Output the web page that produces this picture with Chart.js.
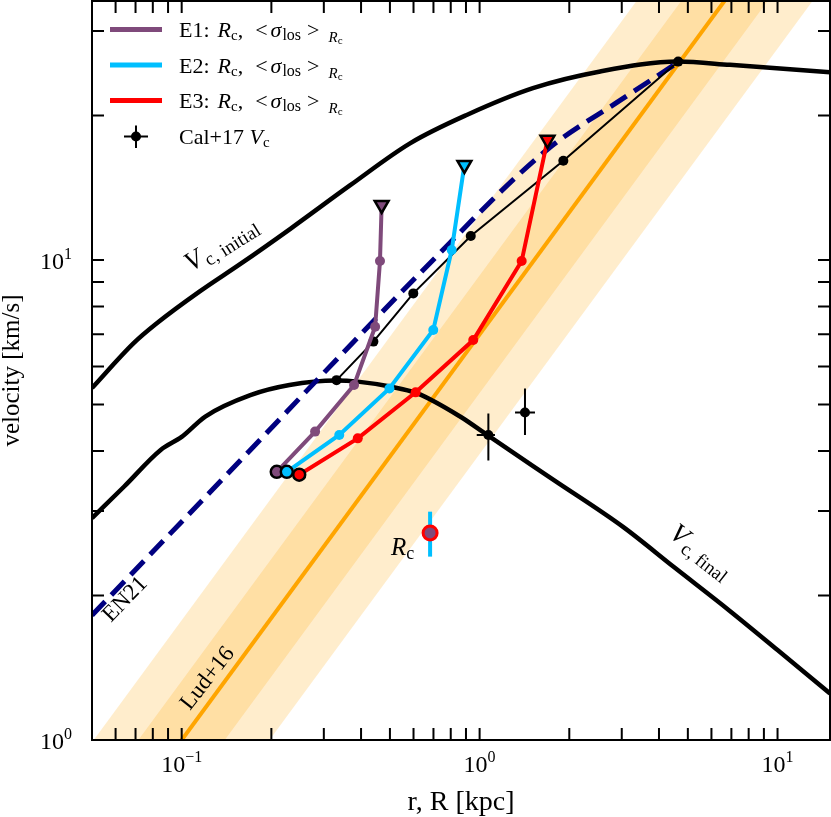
<!DOCTYPE html>
<html>
<head>
<meta charset="utf-8">
<title>velocity vs radius</title>
<script src="https://cdn.jsdelivr.net/npm/chart.js@4.4.1/dist/chart.umd.min.js"></script>
<style>
  html, body { margin: 0; padding: 0; background: #ffffff; }
  canvas { display: block; }
</style>
</head>
<body>
<canvas id="velocityChart" width="831" height="817"></canvas>
<script>
// ------------------- Data -------------------//

// circular velocity curves, r [kpc] / V [km/s]
var vcInitialR = [0.05, 0.069, 0.0825, 0.115, 0.157, 0.231, 0.367, 0.584, 0.905, 1.51, 2.54, 4.64, 6.92, 15];
var vcInitialV = [5.41, 6.71, 7.38, 8.6, 9.8, 11.6, 14.3, 17.5, 20.05, 22.8, 24.7, 25.9, 25.5, 24.6];

var vcFinalR = [0.05, 0.064, 0.085, 0.10, 0.12, 0.17, 0.23, 0.33, 0.39, 0.50, 0.615, 0.86, 1.06, 1.75, 3.03, 4.5, 6.9, 10, 15];
var vcFinalV = [2.9, 3.37, 4.02, 4.28, 4.72, 5.23, 5.49, 5.61, 5.58, 5.45, 5.28, 4.72, 4.32, 3.50, 2.78, 2.29, 1.86, 1.54, 1.25];

// EN21 (dashed)
var en21R = [0.05, 0.17, 0.33, 0.63, 1.68, 2.96, 4.59];
var en21V = [1.82, 4.02, 6.19, 9.38, 16.95, 21.5, 25.7];

// thin black profile with dots
var profileR = [0.331, 0.44, 0.599, 0.934, 1.91, 4.64];
var profileV = [5.62, 6.76, 8.52, 11.22, 16.1, 25.9];

// Lud+16 relation and its two bands (end points)
var ludR = [0.04, 20];
var ludV = [0.461, 88.0];
var ludInnerHiV = [0.612, 116.7];
var ludInnerLoV = [0.348, 66.4];
var ludOuterHiV = [0.819, 156.3];
var ludOuterLoV = [0.260, 49.5];

// E1 / E2 / E3 : R_c, <sigma_los>_Rc
var e1R = [0.2085, 0.2804, 0.379, 0.446, 0.463, 0.469];
var e1V = [3.62, 4.39, 5.49, 7.26, 9.95, 13.02];
var e2R = [0.2253, 0.338, 0.498, 0.699, 0.806, 0.889];
var e2V = [3.62, 4.32, 5.40, 7.15, 10.49, 15.78];
var e3R = [0.248, 0.390, 0.610, 0.952, 1.384, 1.69];
var e3V = [3.57, 4.25, 5.30, 6.81, 9.95, 17.8];

// Cal+17 V_c points with errors
var calR = [1.07, 1.42];
var calV = [4.32, 4.81];
var calRLo = [0.978, 1.315];
var calRHi = [1.126, 1.534];
var calVLo = [3.82, 4.32];
var calVHi = [4.79, 5.40];

// R_c point
var rcR = [0.682];
var rcV = [2.70];
var rcVLo = [2.41];
var rcVHi = [2.99];

// axes
var xMin = 0.05, xMax = 15, yMin = 1, yMax = 34.64;
var xTicks = [0.06, 0.07, 0.08, 0.09, 0.1, 0.2, 0.3, 0.4, 0.5, 0.6, 0.7, 0.8, 0.9, 1, 2, 3, 4, 5, 6, 7, 8, 9, 10];
var yTicks = [2, 3, 4, 5, 6, 7, 8, 9, 10, 20, 30];
var xLabelTicks = [0.1, 1, 10];
var xLabelExps = ['\u22121', '0', '1'];
var yLabelTicks = [1, 10];
var yLabelExps = ['0', '1'];

// ------------------- Helpers -------------------//

var SERIF = '"Liberation Serif", "Times New Roman", serif';
var PURPLE = '#7f4a7b', CYAN = '#00bfff', RED = '#ff0000', NAVY = '#000080', ORANGE = '#ffa500';

function pts(xs, ys) {
  return xs.map(function(x, i) { return { x: x, y: ys[i] }; });
}

function seriesMarkers(color, n) {
  var r = [], st = [], bc = [], bw = [], rot = [];
  for (var i = 0; i < n; i++) {
    if (i === 0) { r.push(6); st.push('circle'); bc.push('#000'); bw.push(2.5); rot.push(0); }
    else if (i === n - 1) { r.push(8); st.push('triangle'); bc.push('#000'); bw.push(2.5); rot.push(180); }
    else { r.push(5); st.push('circle'); bc.push(color); bw.push(0); rot.push(0); }
  }
  return { pointRadius: r, pointStyle: st, pointBorderColor: bc, pointBorderWidth: bw, pointRotation: rot };
}

function eSeries(label, xs, ys, color, order) {
  var m = seriesMarkers(color, xs.length);
  return Object.assign({
    label: label, data: pts(xs, ys), borderColor: color, borderWidth: 4,
    pointBackgroundColor: color, fill: false, tension: 0, order: order
  }, m);
}

function errorBarPoints(xc, yc, xlo, xhi, ylo, yhi) {
  var out = [];
  for (var i = 0; i < xc.length; i++) {
    if (xlo) {
      out.push({ x: xlo[i], y: yc[i] }, { x: xhi[i], y: yc[i] }, { x: xc[i], y: null });
    }
    out.push({ x: xc[i], y: ylo[i] }, { x: xc[i], y: yhi[i] }, { x: xc[i], y: null });
  }
  return out;
}

function richText(ctx, x, y, parts) {
  parts.forEach(function(p) {
    ctx.font = (p.i ? 'italic ' : '') + p.s + 'px ' + SERIF;
    ctx.fillText(p.t, x, y + (p.dy || 0));
    x += ctx.measureText(p.t).width + (p.gap || 0);
  });
  return x;
}

function richWidth(ctx, parts) {
  var w = 0;
  parts.forEach(function(p) {
    ctx.font = (p.i ? 'italic ' : '') + p.s + 'px ' + SERIF;
    w += ctx.measureText(p.t).width + (p.gap || 0);
  });
  return w;
}

function rotatedText(ctx, x, y, deg, parts) {
  ctx.save();
  ctx.translate(x, y);
  ctx.rotate(deg * Math.PI / 180);
  richText(ctx, 0, 0, parts);
  ctx.restore();
}

function eLegendParts(name) {
  return [
    { t: name + ':', s: 22, gap: 8 },
    { t: 'R', s: 22, i: 1 },
    { t: 'c', s: 15, dy: 3 },
    { t: ',', s: 22, gap: 12 },
    { t: '<', s: 22, gap: 3 },
    { t: '\u03c3', s: 22, i: 1, gap: 1 },
    { t: 'los', s: 16, dy: 3, gap: 6 },
    { t: '>', s: 22, gap: 9 },
    { t: 'R', s: 15, i: 1, dy: 5 },
    { t: 'c', s: 11, dy: 7 }
  ];
}

// ------------------- Decorations: frame, ticks, labels, legend -------------------//

var figureDecor = {
  id: 'figureDecor',
  afterDraw: function(chart) {
    var ctx = chart.ctx, a = chart.chartArea;
    var xs = chart.scales.x, ys = chart.scales.y;
    var tickLen = 12;

    ctx.save();
    ctx.textAlign = 'left';
    ctx.textBaseline = 'alphabetic';
    ctx.fillStyle = '#000';
    ctx.strokeStyle = '#000';
    ctx.lineWidth = 2;

    // ticks pointing inward on every side
    ctx.beginPath();
    xTicks.forEach(function(v) {
      var px = xs.getPixelForValue(v);
      ctx.moveTo(px, a.bottom); ctx.lineTo(px, a.bottom - tickLen);
      ctx.moveTo(px, a.top); ctx.lineTo(px, a.top + tickLen);
    });
    yTicks.forEach(function(v) {
      var py = ys.getPixelForValue(v);
      ctx.moveTo(a.left, py); ctx.lineTo(a.left + tickLen, py);
      ctx.moveTo(a.right, py); ctx.lineTo(a.right - tickLen, py);
    });
    ctx.stroke();
    ctx.strokeRect(a.left, a.top, a.right - a.left, a.bottom - a.top);

    // tick labels 10^k
    xLabelTicks.forEach(function(v, i) {
      var parts = [{ t: '10', s: 24 }, { t: xLabelExps[i], s: 16, dy: -10 }];
      var w = richWidth(ctx, parts);
      richText(ctx, xs.getPixelForValue(v) - w / 2, a.bottom + 32, parts);
    });
    yLabelTicks.forEach(function(v, i) {
      var parts = [{ t: '10', s: 24 }, { t: yLabelExps[i], s: 16, dy: -10 }];
      var w = richWidth(ctx, parts);
      richText(ctx, 72 - w, ys.getPixelForValue(v) + 9, parts);
    });

    // axis titles
    ctx.textAlign = 'center';
    ctx.font = '28px ' + SERIF;
    ctx.fillText('r, R [kpc]', (a.left + a.right) / 2, 810);
    ctx.font = '25px ' + SERIF;
    ctx.save();
    ctx.translate(19, (a.top + a.bottom) / 2);
    ctx.rotate(-Math.PI / 2);
    ctx.fillText('velocity [km/s]', 0, 0);
    ctx.restore();
    ctx.textAlign = 'left';

    // legend
    var legendRows = [
      { color: PURPLE, y: 29.5, parts: eLegendParts('E1') },
      { color: CYAN, y: 65, parts: eLegendParts('E2') },
      { color: RED, y: 100.5, parts: eLegendParts('E3') }
    ];
    ctx.lineWidth = 5;
    legendRows.forEach(function(row) {
      ctx.strokeStyle = row.color;
      ctx.beginPath();
      ctx.moveTo(110, row.y); ctx.lineTo(162, row.y);
      ctx.stroke();
      richText(ctx, 179, row.y + 7.5, row.parts);
    });
    ctx.strokeStyle = '#000';
    ctx.lineWidth = 2;
    ctx.beginPath();
    ctx.moveTo(124, 136.5); ctx.lineTo(148, 136.5);
    ctx.moveTo(136, 125.5); ctx.lineTo(136, 148);
    ctx.stroke();
    ctx.beginPath();
    ctx.arc(136, 136.5, 5, 0, Math.PI * 2);
    ctx.fill();
    richText(ctx, 179, 144, [{ t: 'Cal+17 ', s: 22 }, { t: 'V', s: 22, i: 1 }, { t: 'c', s: 15, dy: 3 }]);

    // curve labels
    rotatedText(ctx, 191, 272, -32, [{ t: 'V', s: 27, i: 1, gap: 2 }, { t: 'c, initial', s: 19, dy: 5 }]);
    rotatedText(ctx, 668, 536, 38, [{ t: 'V', s: 27, i: 1, gap: 2 }, { t: 'c, final', s: 19, dy: 5 }]);
    rotatedText(ctx, 111, 623, -46, [{ t: 'EN21', s: 23 }]);
    rotatedText(ctx, 190, 711, -52, [{ t: 'Lud+16', s: 23 }]);
    richText(ctx, 391, 555, [{ t: 'R', s: 25, i: 1 }, { t: 'c', s: 18, dy: 4 }]);

    ctx.restore();
  }
};

// ------------------- Datasets -------------------//

var datasets = [];
function addSet(ds) { datasets.push(ds); return datasets.length - 1; }

var lineBase = { pointRadius: 0, fill: false, tension: 0 };

var outerLo = addSet(Object.assign({}, lineBase, { label: 'outerLo', data: pts(ludR, ludOuterLoV), borderWidth: 0, order: 16 }));
addSet(Object.assign({}, lineBase, { label: 'outerHi', data: pts(ludR, ludOuterHiV), borderWidth: 0, order: 15,
  fill: { target: outerLo }, backgroundColor: 'rgba(255, 165, 0, 0.2)' }));
var innerLo = addSet(Object.assign({}, lineBase, { label: 'innerLo', data: pts(ludR, ludInnerLoV), borderWidth: 0, order: 14 }));
addSet(Object.assign({}, lineBase, { label: 'innerHi', data: pts(ludR, ludInnerHiV), borderWidth: 0, order: 13,
  fill: { target: innerLo }, backgroundColor: 'rgba(255, 165, 0, 0.2)' }));
addSet(Object.assign({}, lineBase, { label: 'Lud+16', data: pts(ludR, ludV), borderColor: ORANGE, borderWidth: 4, order: 12 }));

addSet(Object.assign({}, lineBase, { label: 'Vc initial', data: pts(vcInitialR, vcInitialV), borderColor: '#000',
  borderWidth: 4.5, cubicInterpolationMode: 'monotone', order: 11 }));
addSet(Object.assign({}, lineBase, { label: 'Vc final', data: pts(vcFinalR, vcFinalV), borderColor: '#000',
  borderWidth: 4.5, cubicInterpolationMode: 'monotone', order: 10 }));

addSet(Object.assign({}, lineBase, { label: 'EN21', data: pts(en21R, en21V), borderColor: NAVY,
  borderWidth: 5, borderDash: [19, 9], cubicInterpolationMode: 'monotone', order: 9 }));

addSet({ label: 'profile', data: pts(profileR, profileV), borderColor: '#000', borderWidth: 2,
  pointRadius: 5, pointBackgroundColor: '#000', pointBorderWidth: 0, fill: false, tension: 0, order: 8 });

addSet(eSeries('E1', e1R, e1V, PURPLE, 7));
addSet(eSeries('E2', e2R, e2V, CYAN, 6));
addSet(eSeries('E3', e3R, e3V, RED, 5));

addSet(Object.assign({}, lineBase, { label: 'Cal+17 err', data: errorBarPoints(calR, calV, calRLo, calRHi, calVLo, calVHi),
  borderColor: '#000', borderWidth: 2, spanGaps: false, order: 4 }));
addSet({ label: 'Cal+17', data: pts(calR, calV), showLine: false, pointRadius: 5,
  pointBackgroundColor: '#000', pointBorderWidth: 0, order: 3 });

addSet(Object.assign({}, lineBase, { label: 'Rc err', data: errorBarPoints(rcR, rcV, null, null, rcVLo, rcVHi),
  borderColor: CYAN, borderWidth: 4, spanGaps: false, order: 2 }));
addSet({ label: 'Rc', data: pts(rcR, rcV), showLine: false, pointRadius: 7,
  pointBackgroundColor: PURPLE, pointBorderColor: RED, pointBorderWidth: 3, order: 1 });

// ------------------- Chart -------------------//

var ctx = document.getElementById('velocityChart');
var velocityChart = new Chart(ctx, {
  type: 'line',
  data: { datasets: datasets },
  options: {
    responsive: false,
    animation: false,
    events: [],
    layout: { autoPadding: false, padding: { top: 1, right: 1, left: 0, bottom: 0 } },
    plugins: { legend: { display: false }, tooltip: { enabled: false } },
    scales: {
      x: {
        type: 'logarithmic', min: xMin, max: xMax,
        grid: { display: false }, border: { display: false },
        ticks: { display: false },
        afterFit: function(scale) { scale.height = 77; }
      },
      y: {
        type: 'logarithmic', min: yMin, max: yMax,
        grid: { display: false }, border: { display: false },
        ticks: { display: false },
        afterFit: function(scale) { scale.width = 92; }
      }
    }
  },
  plugins: [figureDecor]
});
</script>
</body>
</html>
